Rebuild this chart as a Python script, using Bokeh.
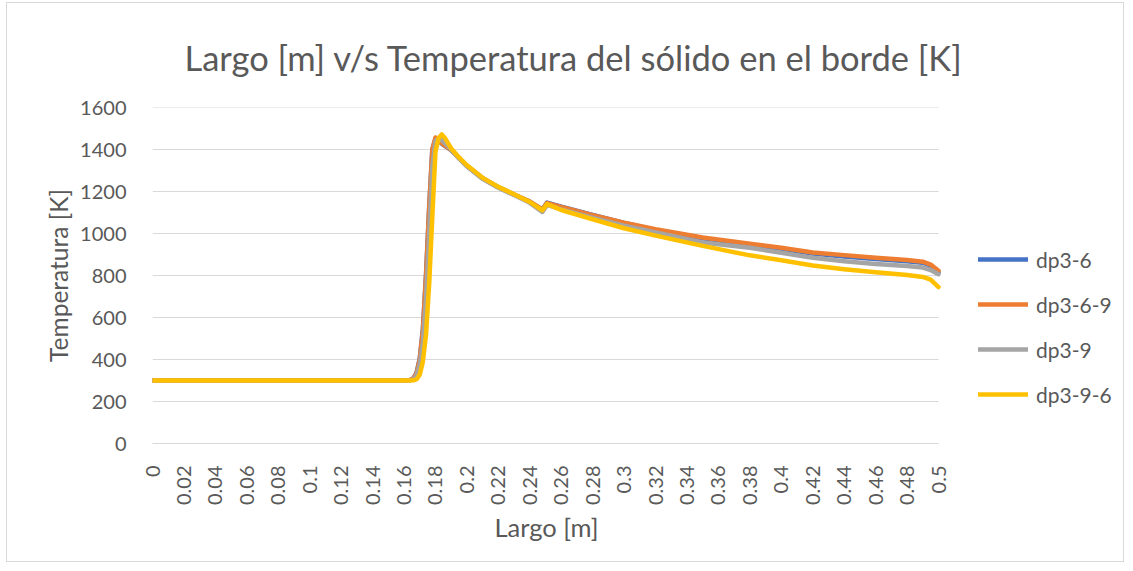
import math
from bokeh.plotting import figure
from bokeh.models import (Range1d, FixedTicker, CustomJSTickFormatter, Legend, LegendItem, Title)
from bokeh.embed import file_html
from bokeh.resources import INLINE

# ---- data ----
largo = [0, 0.05, 0.1, 0.15, 0.16, 0.164, 0.166, 0.168, 0.170, 0.172,
         0.174, 0.176, 0.178, 0.180, 0.182, 0.184, 0.186, 0.19, 0.194, 0.2,
         0.21, 0.22, 0.23, 0.24, 0.248, 0.251, 0.26, 0.28, 0.3, 0.32,
         0.35, 0.38, 0.4, 0.42, 0.44, 0.46, 0.48, 0.49, 0.495, 0.5]

dp3_6 = [300, 300, 300, 300, 300, 303, 310, 338, 405, 545,
         805, 1125, 1400, 1452, 1440, 1428, 1417, 1397, 1367, 1322,
         1263, 1220, 1186, 1152, 1114, 1147, 1128, 1088, 1050, 1017,
         977, 946, 927, 905, 891, 879, 868, 861, 847, 815]

dp3_6_9 = [300, 300, 300, 300, 300, 303, 310, 335, 400, 540,
           800, 1120, 1400, 1457, 1442, 1430, 1418, 1398, 1368, 1322,
           1263, 1220, 1186, 1152, 1115, 1145, 1126, 1087, 1051, 1020,
           981, 951, 932, 910, 897, 885, 874, 866, 852, 822]

dp3_9 = [300, 300, 300, 300, 300, 301, 305, 325, 375, 480,
         690, 1000, 1320, 1440, 1452, 1445, 1430, 1400, 1365, 1320,
         1260, 1218, 1183, 1146, 1103, 1136, 1115, 1075, 1037, 1005,
         957, 932, 908, 884, 868, 855, 845, 838, 826, 806]

dp3_9_6 = [300, 300, 300, 300, 300, 300, 301, 306, 328, 390,
           520, 760, 1080, 1390, 1455, 1472, 1455, 1405, 1370, 1325,
           1265, 1222, 1187, 1150, 1110, 1140, 1112, 1068, 1025, 990,
           941, 896, 873, 848, 830, 815, 802, 793, 780, 745]

series_names = ["dp3-6", "dp3-6-9", "dp3-9", "dp3-9-6"]
series_values = [dp3_6, dp3_6_9, dp3_9, dp3_9_6]
colors = ["#4472C4", "#ED7D31", "#A5A5A5", "#FFC000"]

x_ticks = [round(i * 0.02, 2) for i in range(26)]
y_ticks = list(range(0, 1601, 200))

FONT = "Lato"
TXT = "#595959"

# layout (pixels)
W, H = 1118, 560
LEFT, TOP, BOTTOM = 145, 104, 120
PLOT_W = 786                      # width of the data area in the reference
FRAME_W = W - LEFT
x_end = largo[-1] * FRAME_W / PLOT_W   # blank room on the right for the legend

p = figure(width=W, height=H, output_backend="svg", toolbar_location=None,
           x_range=Range1d(0, x_end), y_range=Range1d(0, 1600),
           min_border_left=LEFT, min_border_right=0, min_border_top=TOP,
           min_border_bottom=BOTTOM,
           title="Largo [m] v/s Temperatura del sólido en el borde [K]")
p.styles = {"border": "1px solid #D9D9D9", "margin-left": "6px", "margin-top": "2px"}

p.title.text_font = FONT
p.title.text_font_size = "34.5px"
p.title.text_font_style = "normal"
p.title.text_color = TXT
p.title.align = "left"
p.title.offset = 32
p.title.standoff = 60

p.outline_line_color = None
p.background_fill_color = "white"
p.border_fill_color = "white"

# axes
p.xaxis.ticker = FixedTicker(ticks=x_ticks)
p.xaxis.bounds = (largo[0], largo[-1])
p.xaxis.formatter = CustomJSTickFormatter(code="return tick.toFixed(2).replace(/\\.?0+$/, '');")
p.xaxis.major_label_orientation = math.pi / 2
p.xaxis.major_label_standoff = 16
p.xaxis.major_tick_line_color = None
p.xaxis.minor_tick_line_color = None
p.xaxis.axis_line_color = "#D9D9D9"

p.yaxis.ticker = FixedTicker(ticks=y_ticks)
p.yaxis.major_label_standoff = 20
p.yaxis.major_tick_line_color = None
p.yaxis.minor_tick_line_color = None
p.yaxis.axis_line_color = None
p.yaxis.axis_label = "Temperatura [K]"
p.yaxis.axis_label_standoff = 4

for ax in (p.xaxis, p.yaxis):
    ax.major_label_text_font = FONT
    ax.major_label_text_font_size = "20px"
    ax.major_label_text_color = TXT
    ax.axis_label_text_font = FONT
    ax.axis_label_text_font_size = "24.5px"
    ax.axis_label_text_font_style = "normal"
    ax.axis_label_text_color = TXT

# x axis title, under the data area
xt = Title(text="Largo [m]", align="left", offset=342, standoff=2,
           text_font=FONT, text_font_size="25.5px", text_font_style="normal",
           text_color=TXT)
p.add_layout(xt, "below")

p.xgrid.grid_line_color = None
p.ygrid.grid_line_color = None

# horizontal gridlines limited to the data area
gy = y_ticks[1:]
p.segment(x0=[largo[0]] * len(gy), y0=gy, x1=[largo[-1]] * len(gy), y1=gy,
          line_color="#D9D9D9", line_width=1)

items = []
for name, vals, col in zip(series_names, series_values, colors):
    r = p.line(largo, vals, line_color=col, line_width=4.5,
               line_join="round", line_cap="round")
    items.append(LegendItem(label=name, renderers=[r]))

legend = Legend(items=items, location=(826, 29), orientation="vertical",
                spacing=5, padding=0, margin=0, glyph_width=50, glyph_height=40,
                label_height=40, label_standoff=8,
                label_text_font=FONT, label_text_font_size="21px",
                label_text_color=TXT, border_line_color=None,
                background_fill_alpha=0)
p.add_layout(legend)

open("out.html", "w").write(file_html(p, INLINE))
